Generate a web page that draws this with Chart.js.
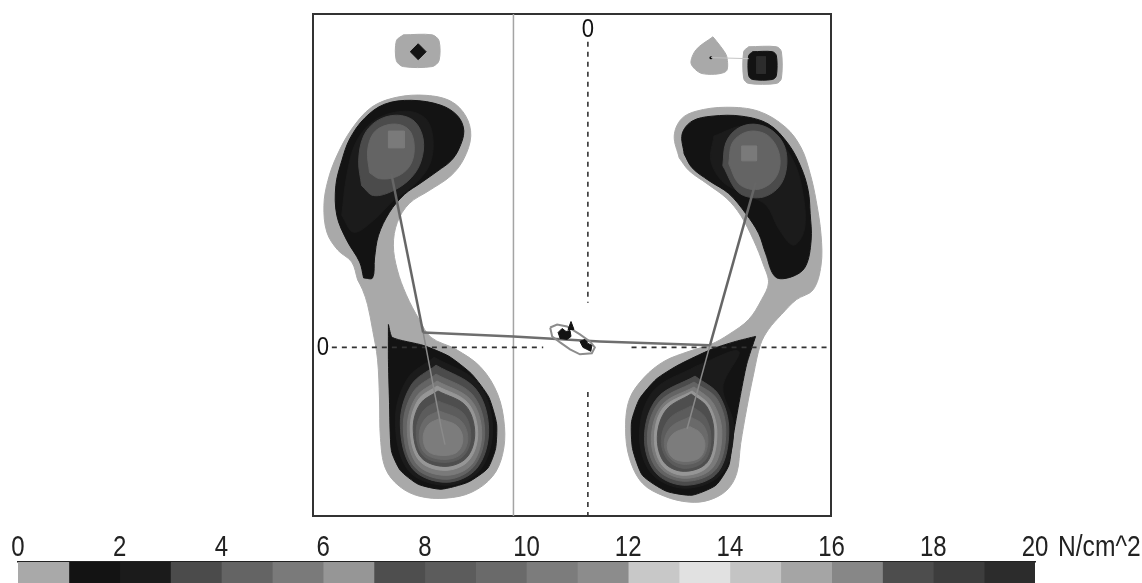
<!DOCTYPE html>
<html>
<head>
<meta charset="utf-8">
<script src="https://cdn.jsdelivr.net/npm/chart.js@4.4.1/dist/chart.umd.min.js"></script>
<style>
    html, body { margin: 0; padding: 0; background: #fff; }
    body { width: 1142px; height: 583px; position: relative; overflow: hidden; }
    #plateChart { position: absolute; left: 309px; top: 10px; }
    #scaleChart { position: absolute; left: 0; top: 520px; }
</style>
</head>
<body>
<canvas id="plateChart" width="526" height="510"></canvas>
<canvas id="scaleChart" width="1142" height="63"></canvas>
<script>
// ── Datos ─────────────
const classEdges  = [0, 1, 2, 3, 4, 5, 6, 7, 8, 9, 10, 11, 12, 13, 14, 15, 16, 17, 18, 19, 20];
const scaleTicks  = [0, 2, 4, 6, 8, 10, 12, 14, 16, 18, 20];
const unitLabel   = 'N/cm^2';
const levelColors = ['#a9a9a9', '#131313', '#1b1b1b', '#4b4b4b', '#646464', '#7a7a7a', '#969696',
                     '#4e4e4e', '#5c5c5c', '#6a6a6a', '#7c7c7c', '#8c8c8c', '#c8c8c8', '#e1e1e1',
                     '#c4c4c4', '#a5a5a5', '#878787', '#4d4d4d', '#3d3d3d', '#2c2c2c'];

// placa (origen en el cruce de líneas punteadas)
const plateX = [-277, 245];
const plateY = [-170, 336];
const zeroMarks = [[0, 320], [-267, 0]];

// pie izquierdo
const leftFootOutline = [[-232,68],[-238,86],[-252,98],[-263,116],[-266,143],[-262,168],[-253,193],[-238,220],[-218,242],[-193,252],[-163,254],[-138,248],[-123,233],[-118,213],[-125,190],[-138,173],[-160,158],[-180,145],[-192,126],[-196,103],[-192,78],[-183,53],[-170,28],[-158,10],[-133,-2],[-108,-20],[-91,-47],[-84,-80],[-86,-108],[-96,-130],[-117,-146],[-143,-152],[-170,-150],[-190,-140],[-204,-122],[-209,-92],[-210,-52],[-212,-12],[-217,18],[-222,43],[-227,58]];
const leftForeBlack = [[-226,70],[-230,86],[-243,108],[-253,133],[-254,163],[-248,188],[-240,210],[-225,231],[-205,245],[-178,249],[-148,244],[-131,233],[-125,218],[-130,200],[-138,188],[-151,178],[-168,166],[-185,154],[-200,136],[-211,113],[-215,90],[-217,70]];
const leftForeDark = [[-248,133],[-243,173],[-233,208],[-213,230],[-183,238],[-163,230],[-156,208],[-160,183],[-176,163],[-196,148],[-216,128],[-236,116]];
const leftForeRing = [[-228,163],[-231,188],[-226,213],[-213,228],[-193,234],[-175,228],[-166,210],[-168,188],[-178,171],[-196,158],[-216,153]];
const leftForeCore = [[-220,176],[-222,198],[-216,216],[-203,224],[-188,224],[-178,216],[-175,198],[-180,182],[-193,172],[-210,170]];
const leftForePeak = [[-201,218],[-185,218],[-185,201],[-201,201]];
const leftHeelBlack = [[-201,23],[-197,10],[-166,2],[-140,-9],[-117,-27],[-100,-50],[-92,-77],[-93,-102],[-101,-122],[-121,-136],[-148,-143],[-171,-138],[-189,-124],[-198,-104],[-200,-52],[-201,-12]];
const heelLevels = [2, 3, 4, 5, 6, 7, 8, 9, 10];
const leftHeelRings = [
    [[-155,-10],[-111,-36],[-96,-81],[-109,-124],[-143,-139],[-181,-124],[-194,-74],[-182,-32]],
    [[-153,-18],[-113,-42],[-100,-83],[-112,-122],[-143,-136],[-177,-122],[-189,-77],[-178,-38]],
    [[-153,-27],[-116,-48],[-104,-85],[-115,-120],[-143,-133],[-175,-120],[-186,-80],[-176,-45]],
    [[-152,-34],[-118,-53],[-107,-86],[-117,-118],[-143,-129],[-172,-118],[-182,-82],[-173,-50]],
    [[-152,-39],[-121,-56],[-111,-86],[-120,-114],[-144,-124],[-170,-114],[-179,-82],[-171,-53]],
    [[-151,-44],[-123,-59],[-114,-86],[-122,-111],[-144,-120],[-168,-111],[-176,-82],[-169,-57]],
    [[-151,-54],[-126,-66],[-118,-88],[-125,-109],[-144,-116],[-166,-109],[-173,-85],[-166,-64]],
    [[-150,-64],[-128,-74],[-121,-91],[-127,-107],[-144,-113],[-164,-107],[-170,-89],[-164,-72]],
    [[-150,-72],[-132,-79],[-126,-92],[-131,-105],[-145,-109],[-161,-105],[-166,-91],[-161,-78]]
];
const leftToe = [[-186,315],[-157,315],[-150,309],[-150,289],[-157,283],[-186,283],[-193,289],[-193,309]];
const leftToeCore = [[-171,306],[-163,298],[-171,290],[-179,298]];

// pie derecho
const rightFootOutline = [[92,191],[87,213],[94,230],[109,238],[139,242],[172,238],[199,222],[215,201],[224,175],[230,148],[235,113],[235,83],[227,58],[210,48],[195,33],[182,18],[174,3],[167,-27],[160,-62],[154,-97],[150,-127],[140,-144],[122,-154],[102,-156],[77,-150],[55,-137],[42,-112],[38,-82],[42,-52],[57,-30],[77,-14],[102,-4],[124,3],[142,13],[162,28],[175,48],[182,65],[177,83],[167,108],[154,133],[140,150],[120,165],[102,178]];
const rightForeBlack = [[97,195],[95,215],[105,228],[125,233],[155,233],[182,225],[202,205],[215,181],[222,158],[224,135],[225,108],[219,81],[205,71],[189,71],[179,95],[172,115],[159,135],[142,155],[122,168],[105,181]];
const rightForeDark = [[127,213],[157,223],[187,213],[207,188],[217,153],[218,118],[207,103],[192,120],[180,143],[162,153],[137,166],[124,188]];
const rightForeRing = [[136,183],[139,206],[150,220],[167,225],[185,219],[198,203],[200,180],[192,161],[174,151],[152,156]];
const rightForeCore = [[142,185],[145,205],[155,215],[168,218],[182,213],[192,198],[193,180],[185,166],[169,159],[152,165]];
const rightForePeak = [[155,203],[170,203],[170,188],[155,188]];
const rightHeelBlack = [[169,11],[160,-17],[153,-52],[146,-92],[142,-119],[129,-139],[105,-149],[79,-145],[55,-129],[45,-102],[44,-75],[52,-52],[69,-32],[89,-19],[109,-9],[127,-1],[149,6]];
const rightHeelRings = [
    [[109,-19],[152,-4],[136,-40],[147,-80],[135,-127],[98,-142],[64,-127],[52,-87],[66,-44]],
    [[108,-29],[132,-48],[142,-84],[131,-126],[98,-139],[68,-126],[57,-90],[70,-51]],
    [[107,-35],[130,-52],[139,-85],[129,-123],[98,-135],[70,-123],[60,-90],[72,-55]],
    [[107,-40],[126,-56],[135,-86],[126,-121],[98,-132],[73,-121],[64,-91],[75,-58]],
    [[105,-44],[122,-58],[130,-86],[122,-119],[97,-129],[75,-119],[67,-91],[76,-61]],
    [[104,-47],[120,-60],[127,-86],[120,-116],[97,-125],[77,-116],[70,-90],[79,-63]],
    [[104,-59],[118,-70],[124,-91],[118,-114],[98,-122],[81,-114],[74,-94],[82,-72]],
    [[103,-70],[116,-78],[121,-94],[115,-112],[98,-118],[83,-112],[77,-96],[84,-80]],
    [[103,-80],[113,-86],[118,-98],[113,-111],[98,-115],[85,-111],[80,-99],[86,-87]]
];
const rightToeA = [[126,313],[134,303],[140,293],[139,278],[115,276],[104,286],[109,300]];
const rightToeADot = [[124,292]];
const rightToeB = [[162,303],[190,303],[195,298],[195,271],[190,266],[162,266],[157,271],[157,298]];
const rightToeBBlack = [[166,298],[186,298],[190,294],[190,274],[186,270],[166,270],[162,274],[162,294]];
const rightToeBCore = [[170,293],[179,293],[179,276],[170,276]];
const toeLink = [[124,292],[162,291]];

// centro de presión y centro del cuerpo
const copLeftFore  = [[-198,175],[-166,15]];
const copTransfer  = [[-166,15],[-75,11],[12,6],[123,2]];
const copRightFore = [[123,2],[169,166]];
const copLeftHeel  = [[-166,15],[-148,-80],[-144,-98]];
const copRightHeel = [[123,2],[100,-82]];
const centreRing  = [[-38,20],[-31,23],[-21,21],[-8,13],[2,6],[7,0],[4,-6],[-8,-7],[-18,-2],[-28,5],[-36,11]];
const centreBlobA = [[-30,15],[-26,19],[-22,16],[-18,17],[-17,11],[-21,8],[-28,9]];
const centreBlobB = [[-8,6],[-3,8],[0,4],[4,2],[3,-4],[-1,-2],[-5,0]];
const centreSpike = [[-20,18],[-17,26],[-14,18]];

// líneas de referencia
const midLine   = [[-75,-170],[-75,336]];
const crossVTop = [[0,308],[0,45]];
const crossVBot = [[0,-45],[0,-170]];
const crossHL   = [[-258,0],[-45,0]];
const crossHR   = [[44,0],[245,0]];

const labelFont = "'Liberation Sans', Arial, sans-serif";

// texto angosto (tipo Arial Narrow) dibujado en el canvas
function narrowText(ctx, text, x, y, size, squeeze, align) {
    ctx.save();
    ctx.font = size + 'px ' + labelFont;
    ctx.textAlign = align;
    ctx.translate(x, y);
    ctx.scale(squeeze, 1);
    ctx.fillText(text, 0, 0);
    ctx.restore();
}

// ── Mapa de presiones ─────────────
(function () {
    const toXY = (pts) => pts.map(p => ({ x: p[0], y: p[1] }));

    function shape(points, level, tension) {
        const c = levelColors[level];
        return {
            data: toXY(points.concat([points[0]])),
            showLine: true, fill: 'shape',
            backgroundColor: c, borderColor: c, borderWidth: 1,
            pointRadius: 0, tension: tension === undefined ? 0.35 : tension
        };
    }
    function stroke(points, color, width, dash) {
        return {
            data: toXY(points), showLine: true, fill: false,
            borderColor: color, borderWidth: width, borderDash: dash || [],
            pointRadius: 0, tension: 0
        };
    }

    const layers = [
        stroke(midLine, '#a4a4a4', 1.5),
        shape(leftFootOutline, 0),
        shape(rightFootOutline, 0),
        shape(leftToe, 0, 0.3),
        shape(rightToeA, 0, 0.3),
        shape(rightToeB, 0, 0.3),
        shape(leftForeBlack, 1),
        shape(leftHeelBlack, 1, 0.2),
        shape(rightForeBlack, 1),
        shape(rightHeelBlack, 1, 0.2),
        shape(rightToeBBlack, 1, 0.3),
        shape(leftToeCore, 1, 0),
        shape(leftForeDark, 2),
        shape(rightForeDark, 2),
        ...leftHeelRings.map((r, i) => shape(r, heelLevels[i])),
        ...rightHeelRings.map((r, i) => shape(r, heelLevels[i])),
        shape(leftForeRing, 3),
        shape(rightForeRing, 3),
        shape(leftForeCore, 4),
        shape(rightForeCore, 4),
        shape(leftForePeak, 5, 0),
        shape(rightForePeak, 5, 0),
        shape(rightToeBCore, 19, 0),
        { data: toXY(rightToeADot), pointRadius: 1.5, backgroundColor: '#000', borderWidth: 0 },
        stroke(toeLink, '#c4c4c4', 1),
        stroke(crossVTop, '#333', 1.6, [5, 5]),
        stroke(crossVBot, '#333', 1.6, [5, 5]),
        stroke(crossHL, '#333', 1.6, [5, 5]),
        stroke(crossHR, '#333', 1.6, [5, 5]),
        stroke(copLeftHeel, '#8a8a8a', 1.5),
        stroke(copRightHeel, '#8a8a8a', 1.5),
        stroke(copLeftFore, '#666', 2.5),
        stroke(copRightFore, '#666', 2.5),
        stroke(copTransfer, '#6e6e6e', 2.5),
        stroke(centreRing.concat([centreRing[0]]), '#8c8c8c', 2),
        shape(centreBlobA, 1, 0),
        shape(centreBlobB, 1, 0),
        shape(centreSpike, 1, 0)
    ];
    layers.forEach((d, i) => { d.order = layers.length - i; });

    const frame = {
        type: 'linear',
        display: true,
        ticks: { display: false },
        grid: { display: false, drawTicks: false },
        border: { display: true, color: '#333', width: 2 }
    };

    const zeroLabels = {
        id: 'zeroLabels',
        afterDatasetsDraw(chart) {
            const { ctx, scales } = chart;
            ctx.save();
            ctx.fillStyle = '#111';
            ctx.textBaseline = 'middle';
            zeroMarks.forEach(m => {
                narrowText(ctx, '0', scales.x.getPixelForValue(m[0]), scales.y.getPixelForValue(m[1]), 26, 0.85, 'center');
            });
            ctx.restore();
        }
    };

    new Chart(document.getElementById('plateChart'), {
        type: 'scatter',
        data: { datasets: layers },
        options: {
            responsive: false,
            animation: false,
            events: [],
            layout: { padding: 2 },
            plugins: { legend: { display: false }, tooltip: { enabled: false } },
            scales: {
                x:  Object.assign({}, frame, { position: 'bottom', min: plateX[0], max: plateX[1] }),
                x2: Object.assign({}, frame, { position: 'top',    min: plateX[0], max: plateX[1] }),
                y:  Object.assign({}, frame, { position: 'left',   min: plateY[0], max: plateY[1] }),
                y2: Object.assign({}, frame, { position: 'right',  min: plateY[0], max: plateY[1] })
            }
        },
        plugins: [zeroLabels]
    });
})();

// ── Escala de colores ─────────────
(function () {
    // etiquetas de la escala con letra angosta, en las posiciones de los ticks del eje
    const scaleLabels = {
        id: 'scaleLabels',
        afterDraw(chart) {
            const { ctx, scales, chartArea } = chart;
            const base = chartArea.top - 6;
            ctx.save();
            ctx.fillStyle = '#222';
            ctx.textBaseline = 'alphabetic';
            scales.x.ticks.forEach(t => {
                narrowText(ctx, String(t.value), scales.x.getPixelForValue(t.value), base, 30, 0.8, 'center');
            });
            narrowText(ctx, unitLabel, scales.x.getPixelForValue(20) + 23, base, 30, 0.82, 'left');
            ctx.restore();
        }
    };

    new Chart(document.getElementById('scaleChart'), {
        type: 'bar',
        data: {
            labels: [''],
            datasets: levelColors.map((c, i) => ({
                data: [[classEdges[i], classEdges[i + 1]]],
                backgroundColor: c,
                borderWidth: 0,
                barPercentage: 1,
                categoryPercentage: 1,
                grouped: false
            }))
        },
        options: {
            indexAxis: 'y',
            responsive: false,
            animation: false,
            events: [],
            layout: { padding: { left: 18, right: 107, top: 0, bottom: 0 } },
            plugins: { legend: { display: false }, tooltip: { enabled: false } },
            scales: {
                x: {
                    type: 'linear',
                    position: 'top',
                    min: 0,
                    max: 20,
                    afterBuildTicks: (s) => { s.ticks = scaleTicks.map(v => ({ value: v })); },
                    afterFit: (s) => { s.height = 42; },
                    ticks: { display: false },
                    grid: { display: false, drawTicks: false },
                    border: { display: true, color: '#222', width: 1.5 }
                },
                y: { display: false }
            }
        },
        plugins: [scaleLabels]
    });
})();
</script>
</body>
</html>
